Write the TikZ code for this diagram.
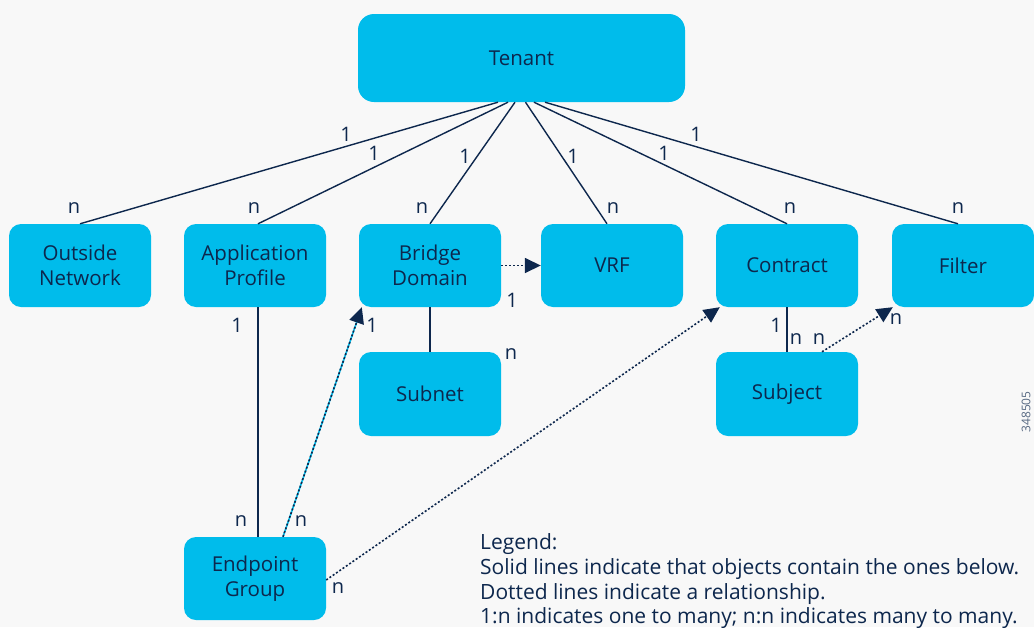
\documentclass[tikz,border=0pt]{standalone}
\usepackage{fontspec}
\setmainfont{Open Sans}
\usetikzlibrary{arrows.meta,calc}
\definecolor{bg}{HTML}{F8F8F8}
\definecolor{cyanbox}{HTML}{00BCEB}
\definecolor{navy}{HTML}{0D274D}
\begin{document}
\begin{tikzpicture}[x=1pt,y=-1pt,
  box/.style={fill=cyanbox, rounded corners=12pt, minimum width=142pt, minimum height=83pt,
    text=navy, font=\fontsize{20.5}{25}\selectfont, align=center, inner sep=0pt},
  conn/.style={draw=navy, line width=1.4pt},
  rel/.style={draw=navy, line width=1.6pt, dash pattern=on 2pt off 2pt},
  tipend/.style={-{Triangle[length=16pt,width=15pt]}},
  lab/.style={text=navy, font=\fontsize{20}{22}\selectfont, inner sep=0pt},
  legendtxt/.style={text=navy, font=\fontsize{21}{24}\selectfont, inner sep=0pt, anchor=base west}]
\fill[bg] (0,0) rectangle (1034,627);
\useasboundingbox (0,0) rectangle (1034,627);

\node[box, minimum width=327pt, minimum height=88pt, rounded corners=16pt] (tenant) at (521.5,58) {Tenant};
\node[box] (outside) at (80,265.5) {Outside\\Network};
\node[box] (approf) at (255,265.5) {Application\\Profile};
\node[box] (bd) at (430,265.5) {Bridge\\Domain};
\node[box] (vrf) at (612,265.5) {VRF};
\node[box] (contract) at (787,265.5) {Contract};
\node[box] (filter) at (963,265.5) {Filter};
\node[box, minimum height=84pt] (subnet) at (430,394) {Subnet};
\node[box, minimum height=84pt] (subject) at (787,394) {Subject};
\node[box] (epg) at (255,578.5) {Endpoint\\Group};

% tenant fan
\draw[conn] ([xshift=-23.5pt]tenant.south) -- (outside.north);
\draw[conn] ([xshift=-13.5pt]tenant.south) -- ([xshift=3pt]approf.north);
\draw[conn] ([xshift=-6.5pt]tenant.south) -- (bd.north);
\draw[conn] ([xshift=4pt]tenant.south) -- ([xshift=-5pt]vrf.north);
\draw[conn] ([xshift=12.5pt]tenant.south) -- (contract.north);
\draw[conn] ([xshift=23.5pt]tenant.south) -- ([xshift=-5pt]filter.north);

\node[lab] (l1a) at (346,134) {1};
\node[lab] (l1b) at (374,153) {1};
\node[lab] (l1c) at (465,156) {1};
\node[lab] (l1d) at (573,156) {1};
\node[lab] (l1e) at (664,153) {1};
\node[lab] (l1f) at (696,134) {1};
\node[lab] (lna) at (74,208) {n};
\node[lab] (lnb) at (254,208) {n};
\node[lab] (lnc) at (422,208) {n};
\node[lab] (lnd) at (613,208) {n};
\node[lab] (lne) at (790,208) {n};
\node[lab] (lnf) at (958,208) {n};

% containment
\draw[conn] ([xshift=3pt]approf.south) -- ([xshift=3pt]epg.north);
\draw[conn] (bd.south) -- (subnet.north);
\draw[conn] (contract.south) -- (subject.north);

% relationships
\draw[rel, tipend] (bd.east) -- (vrf.west);
\draw[cyanbox, line width=1.6pt, shorten >=12pt] ([xshift=28pt]epg.north) -- ([xshift=3pt]bd.south west);
\draw[rel, tipend] ([xshift=28pt]epg.north) -- ([xshift=3pt]bd.south west);
\draw[rel, tipend] ([yshift=-1.5pt]epg.east) -- ([xshift=4pt]contract.south west);
\draw[rel, tipend] ([xshift=35pt]subject.north) -- ([xshift=1pt]filter.south west);

\node[lab] (m1) at (237,325) {1};
\node[lab] (m2) at (241,521) {n};
\node[lab] (m3) at (372,325) {1};
\node[lab] (m4) at (301,521) {n};
\node[lab] (m5) at (512,300) {1};
\node[lab] (m6) at (511,354) {n};
\node[lab] (m7) at (338,588) {n};
\node[lab] (m8) at (776,325) {1};
\node[lab] (m9) at (796,339) {n};
\node[lab] (m10) at (819,339) {n};
\node[lab] (m11) at (896,319) {n};

\node[legendtxt] (lg1) at (480,549) {Legend:};
\node[legendtxt] (lg2) at (480,574) {Solid lines indicate that objects contain the ones below.};
\node[legendtxt] (lg3) at (480,599) {Dotted lines indicate a relationship.};
\node[legendtxt] (lg4) at (480,623) {1:n indicates one to many; n:n indicates many to many.};

\node[rotate=90, text=navy!70, font=\fontsize{12}{14}\selectfont, inner sep=0pt] (fig) at (1026,412) {348505};
\end{tikzpicture}
\end{document}
